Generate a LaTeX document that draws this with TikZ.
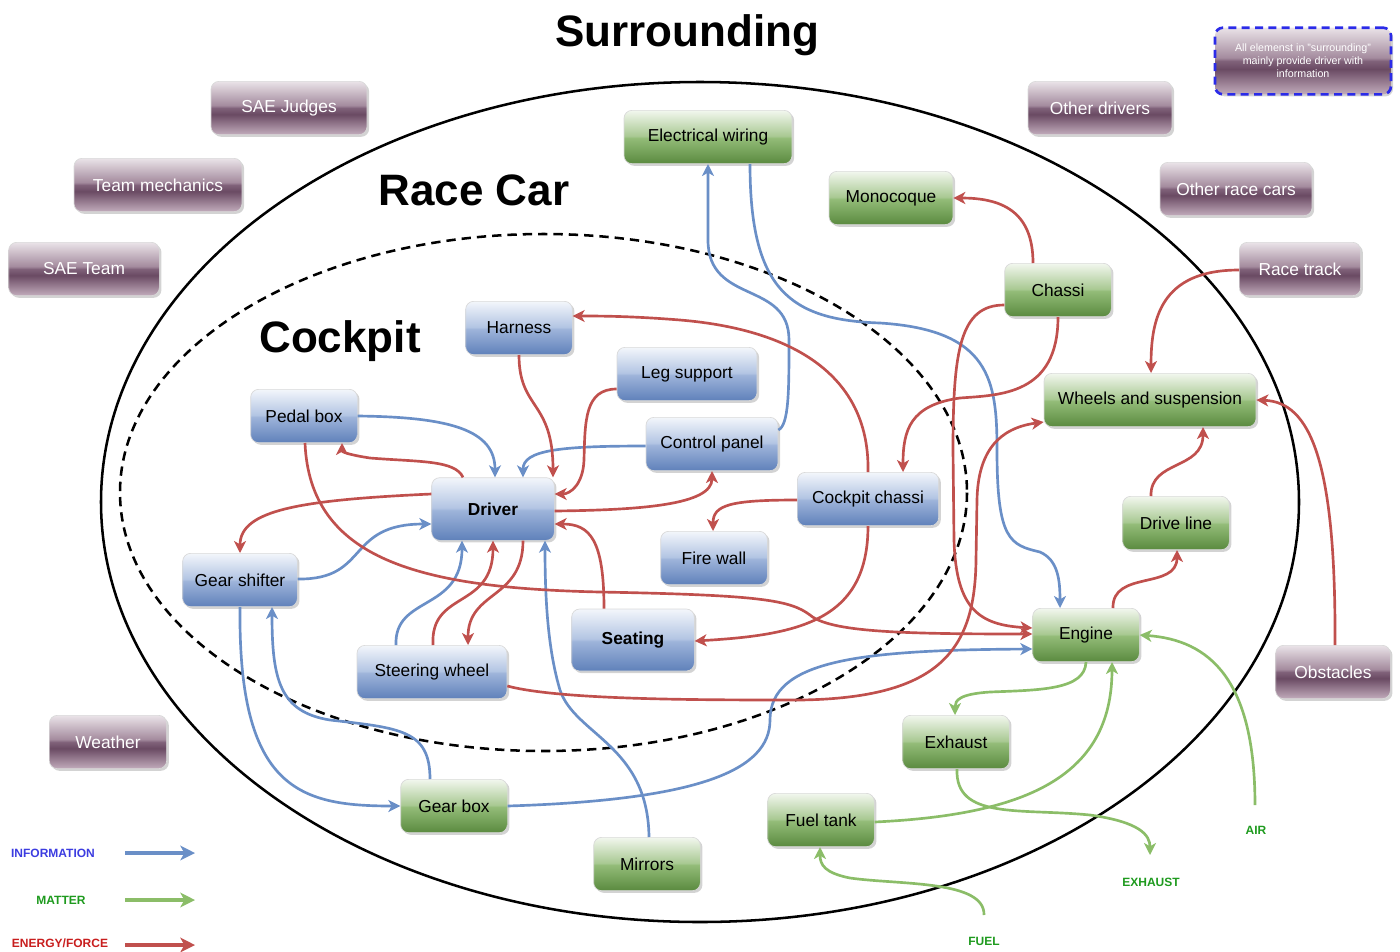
\documentclass[tikz,border=0pt]{standalone}
\usepackage{fontspec}
\setmainfont{Liberation Sans}
\usetikzlibrary{arrows.meta,shadows,calc}

% line and label colours
\definecolor{infoblue}{HTML}{6A8FC7}
\definecolor{energyred}{HTML}{C0504D}
\definecolor{mattergreen}{HTML}{8BBD68}
\definecolor{lblblue}{HTML}{3C3CE0}
\definecolor{lblgreen}{HTML}{1E9A1E}
\definecolor{lblred}{HTML}{C81E1E}
\definecolor{notedash}{HTML}{2B2BE8}

% glossy box fills
\definecolor{bT}{HTML}{F3F6FB}\definecolor{bU}{HTML}{B3C5E3}
\definecolor{bL}{HTML}{9EB4DA}\definecolor{bB}{HTML}{5F81BA}
\definecolor{gT}{HTML}{F2F7EE}\definecolor{gU}{HTML}{A9C993}
\definecolor{gL}{HTML}{93BC78}\definecolor{gB}{HTML}{5A8A3F}
\definecolor{pT}{HTML}{EAE3E8}\definecolor{pU}{HTML}{A48B9E}
\definecolor{pM}{HTML}{80627A}\definecolor{pD}{HTML}{6A4A63}
\definecolor{pB}{HTML}{C2ACBC}

\pgfdeclareverticalshading{bluegloss}{100bp}{color(0bp)=(bB); color(25bp)=(bB);
  color(49bp)=(bL); color(51bp)=(bU); color(75bp)=(bT); color(100bp)=(bT)}
\pgfdeclareverticalshading{greengloss}{100bp}{color(0bp)=(gB); color(25bp)=(gB);
  color(49bp)=(gL); color(51bp)=(gU); color(75bp)=(gT); color(100bp)=(gT)}
\pgfdeclareverticalshading{purplegloss}{100bp}{color(0bp)=(pB); color(25bp)=(pB);
  color(44bp)=(pD); color(50bp)=(pM); color(52.5bp)=(pU); color(75bp)=(pT); color(100bp)=(pT)}

\begin{document}
\begin{tikzpicture}[
  x=0.75pt, y=-0.75pt,
  box/.style={rounded corners=6pt, inner sep=0pt, minimum height=40pt,
    font=\fontsize{13}{15}\selectfont, draw=black!15, line width=0.5pt,
    drop shadow={shadow xshift=1.6pt, shadow yshift=-1.6pt, opacity=0.35}},
  envbox/.style={box, shading=purplegloss, text=white},
  carbox/.style={box, shading=greengloss},
  pitbox/.style={box, shading=bluegloss},
  tip/.style={-{Stealth[length=9pt,width=9pt,inset=2.5pt]}},
  info/.style={tip, draw=infoblue, line width=2pt},
  energy/.style={tip, draw=energyred, line width=2pt},
  matter/.style={tip, draw=mattergreen, line width=2pt},
  legendarrow/.style={-{Stealth[length=11pt,width=11pt,inset=3pt]}, line width=3pt},
  bigtitle/.style={font=\bfseries\fontsize{33}{36}\selectfont},
  smalllbl/.style={font=\bfseries\fontsize{9}{10}\selectfont},
]
\useasboundingbox (0,0) rectangle (1400,951);

% system boundaries
\draw[line width=1.9pt] (700,502) ellipse [x radius=599, y radius=420];
\draw[line width=1.9pt, dash pattern=on 7pt off 4.5pt] (543.5,492.5) ellipse [x radius=423.5, y radius=258.5];

% titles
\node[bigtitle] (tsurr) at (687,35) {Surrounding};
\node[bigtitle] (tcar) at (474,190) {Race Car};
\node[bigtitle] (tpit) at (340,341) {Cockpit};

% surrounding
\node[envbox, minimum width=117pt] (judges) at (289,108) {SAE Judges};
\node[envbox, minimum width=126pt] (mechanics) at (158,185) {Team mechanics};
\node[envbox, minimum width=113pt] (saeteam) at (84,269) {SAE Team};
\node[envbox, minimum width=108pt] (otherdrivers) at (1100,108) {Other drivers};
\node[envbox, minimum width=114pt] (othercars) at (1236,189) {Other race cars};
\node[envbox, minimum width=91pt] (racetrack) at (1300,269) {Race track};
\node[envbox, minimum width=86pt] (obstacles) at (1333,672) {Obstacles};
\node[envbox, minimum width=88pt] (weather) at (108,742) {Weather};
\node[envbox, minimum width=132pt, minimum height=50pt, draw=notedash, line width=2pt,
      dash pattern=on 6pt off 4pt, align=center, font=\fontsize{8}{9.8}\selectfont]
  (note) at (1303,61) {All elemenst in "surrounding"\\mainly provide driver with\\information};

% race car
\node[carbox, minimum width=126pt] (wiring) at (708,137) {Electrical wiring};
\node[carbox, minimum width=93pt] (monocoque) at (891,198) {Monocoque};
\node[carbox, minimum width=80pt] (chassi) at (1058,290) {Chassi};
\node[carbox, minimum width=159pt] (wheels) at (1150,400) {Wheels and suspension};
\node[carbox, minimum width=80pt] (driveline) at (1176,523) {Drive line};
\node[carbox, minimum width=80pt] (engine) at (1086,635) {Engine};
\node[carbox, minimum width=80pt] (exhaust) at (956,742) {Exhaust};
\node[carbox, minimum width=80pt] (fueltank) at (821,820) {Fuel tank};
\node[carbox, minimum width=80pt] (gearbox) at (454,806) {Gear box};
\node[carbox, minimum width=80pt] (mirrors) at (647,864) {Mirrors};

% cockpit
\node[pitbox, minimum width=80pt] (harness) at (519,328) {Harness};
\node[pitbox, minimum width=105pt] (legsupport) at (687,374) {Leg support};
\node[pitbox, minimum width=80pt] (pedalbox) at (304,416) {Pedal box};
\node[pitbox, minimum width=99pt] (controlpanel) at (712,444) {Control panel};
\node[pitbox, minimum width=92pt, minimum height=47pt, font=\bfseries\fontsize{13}{15}\selectfont] (driver) at (493,509) {Driver};
\node[pitbox, minimum width=106pt] (cockpitchassi) at (868,499) {Cockpit chassi};
\node[pitbox, minimum width=80pt] (firewall) at (714,558) {Fire wall};
\node[pitbox, minimum width=86pt] (gearshifter) at (240,580) {Gear shifter};
\node[pitbox, minimum width=92pt, minimum height=46.5pt, font=\bfseries\fontsize{13}{15}\selectfont] (seating) at (633,640) {Seating};
\node[pitbox, minimum width=112.5pt] (steering) at (432,672) {Steering wheel};

% outside flows
\node[smalllbl, text=lblgreen] (airlbl) at (1256,830) {AIR};
\node[smalllbl, text=lblgreen] (exhaustlbl) at (1151,882) {EXHAUST};
\node[smalllbl, text=lblgreen] (fuellbl) at (984,941) {FUEL};
\coordinate (airsrc) at (1255,805);
\coordinate (exhaustout) at (1150,855);
\coordinate (fuelsrc) at (984,915);

% legend
\node[smalllbl, text=lblblue] (linfo) at (53,853) {INFORMATION};
\node[smalllbl, text=lblgreen] (lmatter) at (61,900) {MATTER};
\node[smalllbl, text=lblred] (lenergy) at (60,943) {ENERGY/FORCE};
\coordinate (li1) at (125,853); \coordinate (li2) at (195,853);
\coordinate (lm1) at (125,900); \coordinate (lm2) at (195,900);
\coordinate (le1) at (125,945); \coordinate (le2) at (195,945);
\draw[legendarrow, infoblue] (li1) -- (li2);
\draw[legendarrow, mattergreen] (lm1) -- (lm2);
\draw[legendarrow, energyred] (le1) -- (le2);

% information flows
\draw[info] (pedalbox.east) .. controls (450,417) and (495,430) .. (495,0 |- driver.north);
\draw[info] (controlpanel.west |- 0,446) .. controls (560,446) and (523,450) .. (523,0 |- driver.north);
\draw[info] (gearshifter.east |- 0,579) .. controls (370,580) and (345,524) .. (driver.west |- 0,524);
\draw[info] (396,0 |- steering.north) .. controls (394,595) and (462,612) .. (462,0 |- driver.south);
\draw[info] (649,0 |- mirrors.north) .. controls (648,745) and (575,735) .. (560,690)
  .. controls (548,650) and (545,600) .. (545,0 |- driver.south);
\draw[info] (240,0 |- gearshifter.south) .. controls (238,790) and (300,806) .. (gearbox.west);
\draw[info] (430,0 |- gearbox.north) .. controls (430,730) and (400,728) .. (330,720)
  .. controls (280,712) and (272,680) .. (272,0 |- gearshifter.south);
\draw[info] (gearbox.east) .. controls (700,800) and (770,770) .. (770,720)
  .. controls (770,660) and (860,650) .. (engine.west |- 0,649);
\draw[info] (750,0 |- wiring.south) .. controls (750,290) and (790,320) .. (880,323)
  .. controls (990,330) and (997,380) .. (997,450)
  .. controls (997,540) and (1010,545) .. (1040,552)
  .. controls (1058,560) and (1060,580) .. (1060,0 |- engine.north);
\draw[info] (controlpanel.east |- 0,430) .. controls (789,425) and (789,390) .. (789,340)
  .. controls (789,280) and (708,305) .. (708,240) -- (708,0 |- wiring.south);

% energy / force flows
\draw[energy] (463,0 |- driver.north) .. controls (455,460) and (420,462) .. (370,458)
  .. controls (350,455) and (342,452) .. (342,0 |- pedalbox.south);
\draw[energy] (driver.west |- 0,494) .. controls (300,500) and (240,510) .. (240,0 |- gearshifter.north);
\draw[energy] (519,0 |- harness.south) .. controls (519,410) and (553,400) .. (553,0 |- driver.north);
\draw[energy] (legsupport.west |- 0,389) .. controls (585,389) and (585,420) .. (584,460)
  .. controls (583,485) and (570,494) .. (driver.east |- 0,494);
\draw[energy] (driver.east |- 0,511) .. controls (640,510) and (712,505) .. (712,0 |- controlpanel.south);
\draw[energy] (604,0 |- seating.north) .. controls (604,540) and (590,524) .. (driver.east |- 0,524);
\draw[energy] (433,0 |- steering.north) .. controls (430,590) and (493,610) .. (493,0 |- driver.south);
\draw[energy] (523,0 |- driver.south) .. controls (523,600) and (468,590) .. (468,0 |- steering.north);
\draw[energy] (305,0 |- pedalbox.south) .. controls (310,560) and (420,588) .. (600,592)
  .. controls (760,595) and (790,600) .. (810,615)
  .. controls (830,632) and (900,634) .. (engine.west |- 0,634);
\draw[energy] (chassi.west |- 0,305) .. controls (960,305) and (953,350) .. (953,450) -- (954,540)
  .. controls (956,610) and (980,625) .. (engine.west |- 0,628);
\draw[energy] (1058,0 |- chassi.south) .. controls (1058,395) and (1000,395) .. (960,398)
  .. controls (910,405) and (903,430) .. (903,0 |- cockpitchassi.north);
\draw[energy] (1033,0 |- chassi.north) .. controls (1033,210) and (1000,198) .. (monocoque.east);
\draw[energy] (868,0 |- cockpitchassi.north) .. controls (870,380) and (800,330) .. (680,320)
  .. controls (630,316) and (600,316) .. (harness.east |- 0,316);
\draw[energy] (cockpitchassi.west |- 0,500) .. controls (730,500) and (713,505) .. (713,0 |- firewall.north);
\draw[energy] (868,0 |- cockpitchassi.south) .. controls (868,620) and (800,635) .. (seating.east |- 0,641);
\draw[energy] (steering.east |- 0,686) .. controls (560,700) and (700,700) .. (800,700)
  .. controls (940,698) and (975,650) .. (976,560) -- (977,500)
  .. controls (978,450) and (1000,428) .. (wheels.west |- 0,422);
\draw[energy] (1151,0 |- driveline.north) .. controls (1150,460) and (1203,470) .. (1203,0 |- wheels.south);
\draw[energy] (1113,0 |- engine.north) .. controls (1112,570) and (1177,590) .. (1177,0 |- driveline.south);
\draw[energy] (racetrack.west |- 0,270) .. controls (1160,270) and (1151,320) .. (1151,0 |- wheels.north);
\draw[energy] (1335,0 |- obstacles.north) .. controls (1336,460) and (1310,402) .. (wheels.east);

% matter flows
\draw[matter] (engine.south) .. controls (1085,690) and (1040,690) .. (990,692)
  .. controls (960,694) and (955,700) .. (955,0 |- exhaust.north);
\draw[matter] (fueltank.east |- 0,822) .. controls (1020,815) and (1112,780) .. (1112,0 |- engine.south);
\draw[matter] (957,0 |- exhaust.south) .. controls (955,820) and (1020,808) .. (1090,815)
  .. controls (1140,822) and (1150,835) .. (exhaustout);
\draw[matter] (airsrc) .. controls (1255,680) and (1210,640) .. (engine.east);
\draw[matter] (fuelsrc) .. controls (985,880) and (900,885) .. (850,878)
  .. controls (825,873) and (820,865) .. (820,0 |- fueltank.south);
\end{tikzpicture}
\end{document}
